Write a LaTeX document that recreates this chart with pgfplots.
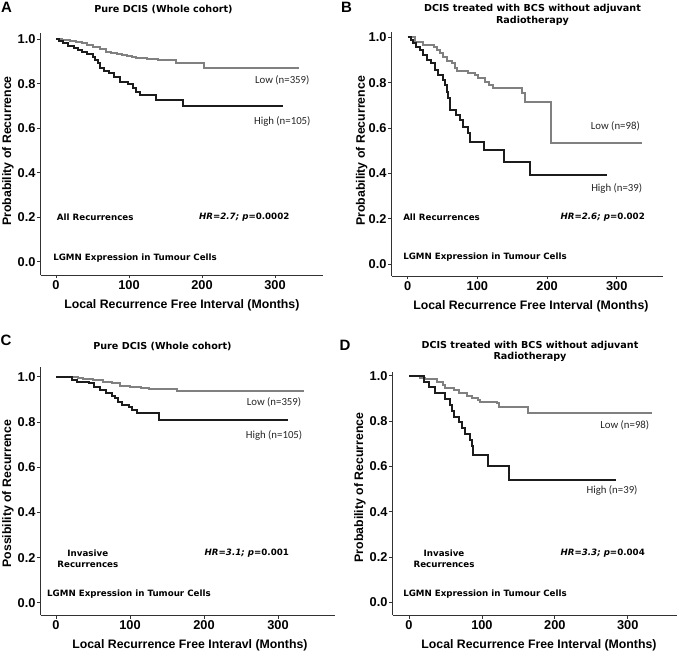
\documentclass[border=0pt]{standalone}
\usepackage{fontspec}
\setmainfont{Liberation Sans}
\newfontfamily\verd{DejaVu Sans}
\newfontfamily\calib{Carlito}
\usepackage{pgfplots}
\pgfplotsset{compat=1.18}
\definecolor{lowc}{RGB}{128,128,128}
\definecolor{highc}{RGB}{28,28,28}
\definecolor{axc}{RGB}{50,50,50}
\pgfplotsset{
 km/.style={
  scale only axis, axis lines=left,
  axis line style={-, line width=0.9pt, color=axc},
  tick align=outside, major tick length=3.5pt,
  tick style={axc, line width=0.8pt},
  xtick={0,100,200,300}, ytick={0,0.2,0.4,0.6,0.8,1.0},
  yticklabel style={inner sep=1.5pt, /pgf/number format/.cd, fixed, fixed zerofill, precision=1},
  /pgf/number format/assume math mode=true,
  ticklabel style={font=\bfseries\fontsize{12.8}{13}\selectfont},
  xticklabel style={inner sep=2pt},
  label style={font=\bfseries\fontsize{12.3}{13}\selectfont},
  xlabel style={at={(rel axis cs:0.5,0)}, anchor=center, yshift=-30pt},
  clip=false,
 },
 lowl/.style={const plot, color=lowc, line width=2pt},
 highl/.style={const plot, color=highc, line width=2pt},
}
\tikzset{
 grp/.style={font=\calib\fontsize{10.8}{11}\selectfont, text=black!85},
 ann/.style={font=\verd\bfseries\fontsize{8.7}{10.7}\selectfont, inner sep=0pt},
 ttl/.style={font=\verd\bfseries\fontsize{9.6}{11.4}\selectfont, inner sep=0pt},
 let/.style={font=\bfseries\fontsize{15}{15}\selectfont, inner sep=0pt},
}
\begin{document}
\begin{tikzpicture}[x=1pt,y=1pt]
% ---------------- Panel A ----------------
\begin{axis}[km, at={(40.7pt,379pt)}, anchor=south west,
  width=282.3pt, height=241.7pt,
  xmin=-21, xmax=365.8, ymin=-0.060, ymax=1.026,
  xlabel={Local Recurrence Free Interval (Months)},
  ylabel={Probability of Recurrence},
  ylabel style={at={([xshift=-32.7pt]rel axis cs:0,0.513)}, anchor=center}]
\addplot[lowl] coordinates {(0,1.0) (8,0.996) (19,0.992) (28,0.986) (35,0.981) (43,0.974) (51,0.965) (60,0.955) (69,0.943) (76,0.938) (83,0.933) (90,0.928) (97,0.924) (104,0.918) (110,0.913) (124,0.909) (140,0.905) (165,0.891) (203,0.869) (333,0.869)};
\addplot[highl] coordinates {(0,1.000) (4,0.990) (10,0.981) (17,0.971) (24,0.962) (30,0.952) (36,0.943) (42,0.933) (50,0.921) (54,0.906) (58,0.891) (60,0.868) (66,0.858) (73,0.846) (80,0.831) (87,0.808) (98,0.798) (105,0.779) (110,0.763) (115,0.749) (137,0.726) (174,0.699) (311,0.699)};
\node[grp] at (axis cs:310,0.816) {Low (n=359)};
\node[grp] at (axis cs:310,0.629) {High (n=105)};
\node[ann, anchor=west] at (axis cs:1,0.20) {All Recurrences};
\node[ann, anchor=east] at (axis cs:320,0.20) {\itshape HR=2.7; p\upshape=0.0002};
\node[ann, anchor=west] at (axis cs:-4,0.017) {LGMN Expression in Tumour Cells};
\end{axis}
% ---------------- Panel B ----------------
\begin{axis}[km, at={(391.7pt,378pt)}, anchor=south west,
  width=271.3pt, height=244.3pt,
  xmin=-23, xmax=366.4, ymin=-0.053, ymax=1.025,
  xlabel={Local Recurrence Free Interval (Months)},
  ylabel={Probability of Recurrence},
  xlabel style={at={(rel axis cs:0.513,0)}},
  ylabel style={at={([xshift=-30pt]rel axis cs:0,0.512)}, anchor=center}]
\addplot[lowl] coordinates {(0,1.0) (10,0.981) (22,0.966) (37,0.959) (42,0.944) (46,0.929) (51,0.914) (56,0.897) (63,0.885) (68,0.863) (70,0.853) (87,0.841) (97,0.834) (101,0.819) (111,0.804) (116,0.790) (123,0.775) (164,0.753) (168,0.716) (205,0.532) (336,0.532)};
\addplot[highl] coordinates {(0,1.0) (5,0.988) (8,0.974) (12,0.959) (18,0.944) (22,0.922) (27,0.900) (34,0.885) (39,0.856) (44,0.834) (50,0.812) (54,0.790) (56,0.760) (58,0.731) (61,0.679) (69,0.657) (75,0.635) (80,0.606) (87,0.576) (89,0.540) (109,0.503) (138,0.449) (175,0.393) (286,0.393)};
\node[grp] at (axis cs:298,0.609) {Low (n=98)};
\node[grp] at (axis cs:300,0.334) {High (n=39)};
\node[ann, anchor=west] at (axis cs:-6.7,0.206) {All Recurrences};
\node[ann, anchor=east] at (axis cs:340.6,0.206) {\itshape HR=2.6; p\upshape=0.002};
\node[ann, anchor=west] at (axis cs:-6.7,0.030) {LGMN Expression in Tumour Cells};
\end{axis}
% ---------------- Panel C ----------------
\begin{axis}[km, at={(40.7pt,39pt)}, anchor=south west,
  width=294.3pt, height=247.7pt,
  xmin=-20.7, xmax=377, ymin=-0.054, ymax=1.042,
  xlabel={Local Recurrence Free Interavl (Months)},
  ylabel={Possibility of Recurrence},
  xlabel style={at={(rel axis cs:0.507,0)}},
  ylabel style={at={([xshift=-32.7pt]rel axis cs:0,0.49)}, anchor=center}]
\addplot[lowl] coordinates {(0,1.0) (20,0.997) (30,0.993) (37,0.989) (50,0.985) (64,0.978) (75,0.971) (86,0.960) (100,0.956) (115,0.949) (125,0.946) (164,0.936) (335,0.936)};
\addplot[highl] coordinates {(0,1.0) (21,0.985) (28,0.975) (45,0.971) (52,0.956) (60,0.941) (68,0.927) (75,0.916) (80,0.904) (84,0.889) (89,0.875) (98,0.867) (103,0.853) (109,0.838) (139,0.810) (314,0.810)};
\node[grp] at (axis cs:294.6,0.885) {Low (n=359)};
\node[grp] at (axis cs:294.6,0.739) {High (n=105)};
\node[ann, align=center] at (axis cs:43,0.195) {Invasive\\Recurrences};
\node[ann, anchor=east] at (axis cs:315,0.219) {\itshape HR=3.1; p\upshape=0.001};
\node[ann, anchor=west] at (axis cs:-12.2,0.038) {LGMN Expression in Tumour Cells};
\end{axis}
% ---------------- Panel D ----------------
\begin{axis}[km, at={(392.7pt,39pt)}, anchor=south west,
  width=284pt, height=243.3pt,
  xmin=-22.4, xmax=367.2, ymin=-0.056, ymax=1.018,
  xlabel={Local Recurrence Free Interval (Months)},
  ylabel={Probability of Recurrence},
  xlabel style={at={(rel axis cs:0.515,0)}},
  ylabel style={at={([xshift=-32.7pt]rel axis cs:0,0.524)}, anchor=center}]
\addplot[lowl] coordinates {(0,1.000) (15,0.990) (22,0.985) (38,0.974) (46,0.959) (49,0.944) (61,0.937) (68,0.922) (79,0.912) (86,0.900) (95,0.893) (97,0.883) (120,0.878) (123,0.863) (163,0.834) (333,0.834)};
\addplot[highl] coordinates {(0,1.000) (20,0.974) (27,0.949) (35,0.923) (50,0.897) (56,0.872) (59,0.846) (61,0.820) (68,0.795) (72,0.769) (77,0.744) (83,0.718) (86,0.692) (88,0.650) (109,0.600) (137,0.540) (284,0.540)};
\node[grp] at (axis cs:296,0.782) {Low (n=98)};
\node[grp] at (axis cs:278.5,0.492) {High (n=39)};
\node[ann, align=center] at (axis cs:48,0.193) {Invasive\\Recurrences};
\node[ann, anchor=east] at (axis cs:323.7,0.216) {\itshape HR=3.3; p\upshape=0.004};
\node[ann, anchor=west] at (axis cs:-8.2,0.037) {LGMN Expression in Tumour Cells};
\end{axis}
% ---------------- titles and letters ----------------
\node[let] at (6.5,646.5) {A};
\node[let] at (346.5,646.5) {B};
\node[let] at (6,314) {C};
\node[let] at (345,309) {D};
\node[ttl] at (163.5,644.7) {Pure DCIS (Whole cohort)};
\node[ttl, align=center] at (532.5,639) {DCIS treated with BCS without adjuvant\\Radiotherapy};
\node[ttl] at (162.5,307.3) {Pure DCIS (Whole cohort)};
\node[ttl, align=center] at (530,302.6) {DCIS treated with BCS without adjuvant\\Radiotherapy};
\pgfresetboundingbox
\useasboundingbox (0,0) rectangle (685,654);
\end{tikzpicture}
\end{document}
